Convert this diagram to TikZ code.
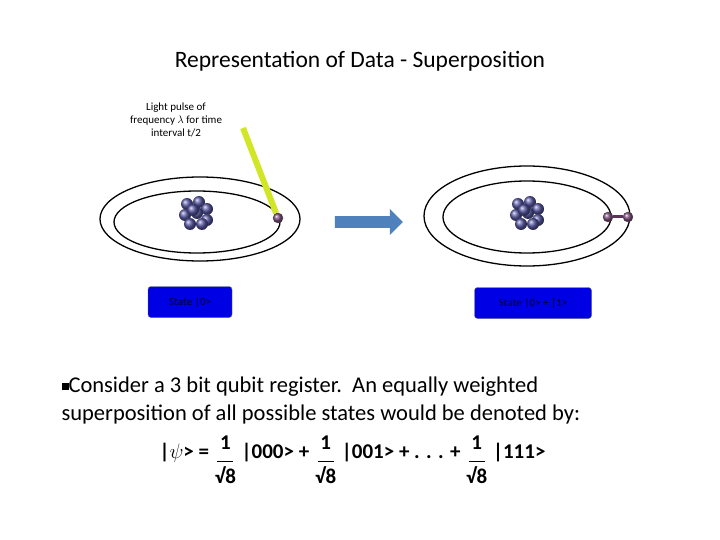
\documentclass[tikz,border=0pt]{standalone}
\usepackage{fontspec}
\setmainfont{Carlito}
\usetikzlibrary{arrows.meta,shapes.arrows}
\definecolor{arrblue}{RGB}{79,129,189}
\newcommand{\qfrac}{\raisebox{-0.42em}{\renewcommand{\arraystretch}{0.75}\setlength{\tabcolsep}{1pt}\begin{tabular}{c}1\\[-4pt]\rule{16pt}{1.6pt}\\[-1pt]√8\end{tabular}}}
\begin{document}
\begin{tikzpicture}[x=1pt,y=-1pt,
  orbit/.style={draw=black,line width=1.3pt},
  ball/.style={circle,ball color=blue!30!gray,inner sep=0pt,minimum size=12pt},
  elec/.style={circle,ball color=violet!40!gray,draw=black!70,inner sep=0pt,minimum size=10pt},
  state/.style={draw=black!60,fill=blue!90!black,rounded corners=3pt,font=\fontsize{11}{12}\selectfont\bfseries,text=blue!35!black,minimum height=31pt}]
\useasboundingbox (0,0) rectangle (720,540);
\node (title) at (360,61) {\fontsize{23.5}{26}\selectfont Representation of Data - Superposition};
% left atom
\draw[orbit] (200,219) ellipse [x radius=100,y radius=42];
\draw[orbit] (197,222) ellipse [x radius=83,y radius=31];
\foreach \dx/\dy in {-9/-8,3/-10,11/-3,-11/3,1/1,11/8,-6/12,6/12,-3/-2}{\node[ball] at (196+\dx,212+\dy) {};}
\node[elec] (e0) at (278,218) {};
\coordinate (bs) at (243,128);
\draw[yellow!80!green!90,line width=6pt] (bs) -- (e0);
\node[align=center,font=\fontsize{11}{13}\selectfont] (lbl) at (176,120) {Light pulse of\\frequency $\lambda$ for time\\interval t/2};
% arrow
\node[single arrow,fill=arrblue,draw=none,minimum height=68pt,minimum width=26pt,single arrow head extend=4pt,inner sep=3pt] (arr) at (366,222) {};
% right atom
\draw[orbit] (527,216) ellipse [x radius=103,y radius=50];
\draw[orbit] (527,217) ellipse [x radius=84,y radius=36];
\foreach \dx/\dy in {-9/-8,3/-10,11/-3,-11/3,1/1,11/8,-6/12,6/12,-3/-2}{\node[ball] at (527+\dx,212+\dy) {};}
\node[elec] (e1) at (608,217) {};
\node[elec] (e2) at (628,217) {};
\draw[violet!40!black!80,line width=3pt] (e1) -- (e2);
\node[state,minimum width=84pt] (s0) at (190,302) {State |0>};
\node[state,minimum width=117pt] (s1) at (533,303) {State |0> + |1>};
% text
\node[anchor=north west,align=left,font=\fontsize{22.5}{28}\selectfont] (txt) at (58,373) {\raisebox{2pt}{\rule{7pt}{7pt}}Consider a 3 bit qubit register.\ \ An equally weighted\\superposition of all possible states would be denoted by:};
\node[font=\fontsize{21}{22}\selectfont\bfseries,anchor=west] (f) at (156,462) {|$\psi$> = \qfrac\ |000> + \qfrac\ |001> + . . . + \qfrac\ |111>};
\end{tikzpicture}
\end{document}
